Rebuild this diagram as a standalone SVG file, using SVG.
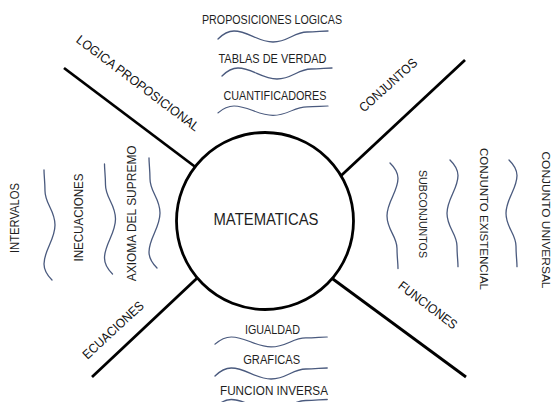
<svg xmlns="http://www.w3.org/2000/svg" xmlns:xlink="http://www.w3.org/1999/xlink" width="553" height="402" viewBox="0 0 553 402">
<style>
.t{font-family:"Liberation Sans",Arial,sans-serif;font-size:12.3px;fill:#1e1e1e;text-anchor:middle}
.v{font-size:12px}
.r{font-size:11.5px}
.d{font-size:13px;fill:#111}
.m{font-size:16px}
.w{fill:none;stroke:#4a5a7e;stroke-width:1.3;stroke-linecap:round}
.c{stroke:#000;stroke-width:2.8;fill:none;stroke-linecap:butt}
</style>
<defs>
<path id="wave" d="M0,8 C4,4 9,0 16,0 C30,0 40,11 55,11 C70,11 76,1 89,1 C98,1 104,0 110,0"/>
</defs>
<rect width="553" height="402" fill="#fff"/>
<g id="connectors">
<line class="c" x1="64" y1="68" x2="210" y2="178"/>
<line class="c" x1="465" y1="60" x2="330" y2="186"/>
<line class="c" x1="92" y1="377" x2="210" y2="266"/>
<line class="c" x1="466" y1="377" x2="322" y2="271"/>
</g>
<g id="matematicas">
<circle cx="265" cy="221" r="88.5" fill="#fff" stroke="#000" stroke-width="2.8"/>
<text class="t m" x="266" y="224.5" textLength="105" lengthAdjust="spacingAndGlyphs">MATEMATICAS</text>
</g>
<g id="logica-proposicional">
<text class="t d" transform="translate(138,83) rotate(37)" y="4.6" textLength="150" lengthAdjust="spacingAndGlyphs">LOGICA PROPOSICIONAL</text>
</g>
<g id="conjuntos">
<text class="t d" transform="translate(388,85) rotate(-42)" y="4.6" textLength="73" lengthAdjust="spacingAndGlyphs">CONJUNTOS</text>
</g>
<g id="ecuaciones">
<text class="t d" transform="translate(113,330) rotate(-43)" y="4.6" textLength="78" lengthAdjust="spacingAndGlyphs">ECUACIONES</text>
</g>
<g id="funciones">
<text class="t d" transform="translate(428,305) rotate(37)" y="4.6" textLength="70" lengthAdjust="spacingAndGlyphs">FUNCIONES</text>
</g>
<g id="logica-items">
<text class="t" x="272" y="24" textLength="140" lengthAdjust="spacingAndGlyphs">PROPOSICIONES LOGICAS</text>
<use xlink:href="#wave" class="w" transform="translate(218,31)"/>
<text class="t" x="272.5" y="62.5" textLength="108" lengthAdjust="spacingAndGlyphs">TABLAS DE VERDAD</text>
<use xlink:href="#wave" class="w" transform="translate(222,68)"/>
<text class="t" x="275" y="100" textLength="103" lengthAdjust="spacingAndGlyphs">CUANTIFICADORES</text>
<use xlink:href="#wave" class="w" transform="translate(218,106) scale(1,0.85)"/>
</g>
<g id="funciones-items">
<text class="t" x="272.5" y="334" textLength="55" lengthAdjust="spacingAndGlyphs">IGUALDAD</text>
<use xlink:href="#wave" class="w" transform="translate(215,337) scale(1.02,0.9)"/>
<text class="t" x="271.7" y="364" textLength="57" lengthAdjust="spacingAndGlyphs">GRAFICAS</text>
<use xlink:href="#wave" class="w" transform="translate(215,368) scale(1.02,1)"/>
<text class="t" x="274" y="395" textLength="108" lengthAdjust="spacingAndGlyphs">FUNCION INVERSA</text>
<use xlink:href="#wave" class="w" transform="translate(215,399.5) scale(1.02,1)"/>
</g>
<g id="ecuaciones-items">
<text class="t v" transform="translate(19.3,218) rotate(-90)" textLength="70" lengthAdjust="spacingAndGlyphs">INTERVALOS</text>
<use xlink:href="#wave" class="w" transform="translate(44,280) rotate(-90)"/>
<text class="t v" transform="translate(82.7,217.5) rotate(-90)" textLength="88" lengthAdjust="spacingAndGlyphs">INECUACIONES</text>
<use xlink:href="#wave" class="w" transform="translate(104.5,274) rotate(-90)"/>
<text class="t v" transform="translate(136,213.3) rotate(-90)" textLength="136" lengthAdjust="spacingAndGlyphs">AXIOMA DEL SUPREMO</text>
<use xlink:href="#wave" class="w" transform="translate(149,268) rotate(-90)"/>
</g>
<g id="conjuntos-items">
<use xlink:href="#wave" class="w" transform="translate(398,163) rotate(90) scale(0.96,1)"/>
<text class="t r" transform="translate(418.5,214) rotate(90)" textLength="88" lengthAdjust="spacingAndGlyphs">SUBCONJUNTOS</text>
<use xlink:href="#wave" class="w" transform="translate(458,160) rotate(90) scale(0.97,1)"/>
<text class="t r" transform="translate(480,219) rotate(90)" textLength="142" lengthAdjust="spacingAndGlyphs">CONJUNTO EXISTENCIAL</text>
<use xlink:href="#wave" class="w" transform="translate(517,160) rotate(90) scale(0.97,1)"/>
<text class="t r" transform="translate(541.7,220) rotate(90)" textLength="137" lengthAdjust="spacingAndGlyphs">CONJUNTO UNIVERSAL</text>
</g>
</svg>
